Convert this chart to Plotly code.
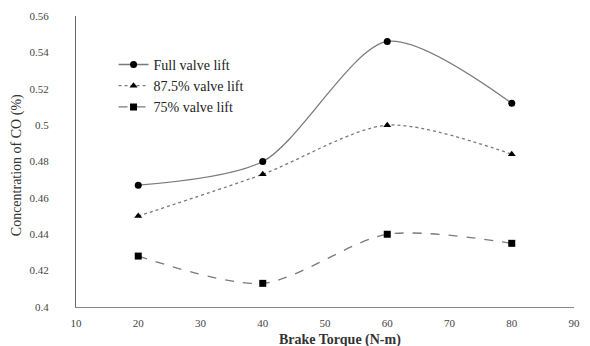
import plotly.graph_objects as go

torque = [20, 40, 60, 80]
full_lift = [0.467, 0.480, 0.546, 0.512]
lift_875 = [0.450, 0.473, 0.500, 0.484]
lift_75 = [0.428, 0.413, 0.440, 0.435]

names = ["Full valve lift", "87.5% valve lift", "75% valve lift"]
series = [full_lift, lift_875, lift_75]
dashes = ["solid", "dot", "dash"]
symbols = ["circle", "triangle-up", "square"]

fig = go.Figure()
for n, s, d, sym in zip(names, series, dashes, symbols):
    fig.add_trace(go.Scatter(
        x=torque, y=s, name=n, mode="lines+markers",
        line=dict(color="#7a7a7a", width=1.3, dash=d, shape="spline", smoothing=0.8),
        marker=dict(color="black", size=7, symbol=sym),
    ))

font = '"Liberation Serif", "Times New Roman", serif'
fig.update_layout(
    width=590, height=346,
    margin=dict(l=76, r=10, t=15, b=39),
    paper_bgcolor="white", plot_bgcolor="white",
    font=dict(family=font, size=11, color="#333"),
    showlegend=True,
    legend=dict(x=(114-76)/504, y=(307-48)/292, xanchor="left", yanchor="top",
                bgcolor="rgba(0,0,0,0)", font=dict(family=font, size=14, color="#222"),
                itemwidth=30, tracegroupgap=0),
    xaxis=dict(range=[10, 90], dtick=10, tick0=10, showgrid=False, zeroline=False,
               showline=True, linecolor="#888", linewidth=1, ticks="",
               ticklabelstandoff=6, tickfont=dict(family=font, size=11, color="#444")),
    yaxis=dict(range=[0.4, 0.56], dtick=0.02, tick0=0.4, showgrid=False, zeroline=False,
               showline=True, linecolor="#666", linewidth=1, ticks="",
               ticklabelstandoff=24, tickfont=dict(family=font, size=11, color="#444")),
)
fig.add_annotation(text="<b>Brake Torque (N-m)</b>", xref="paper", yref="paper",
                   x=(343-76)/504, y=-33/292, xanchor="center", yanchor="middle",
                   showarrow=False, font=dict(family=font, size=14, color="#333"))
fig.add_annotation(text="Concentration of CO (%)", xref="paper", yref="paper",
                   x=(17-76)/504, y=(307-165)/292, textangle=-90,
                   xanchor="center", yanchor="middle", showarrow=False,
                   font=dict(family=font, size=14, color="#333"))
fig.write_html("out.html")
